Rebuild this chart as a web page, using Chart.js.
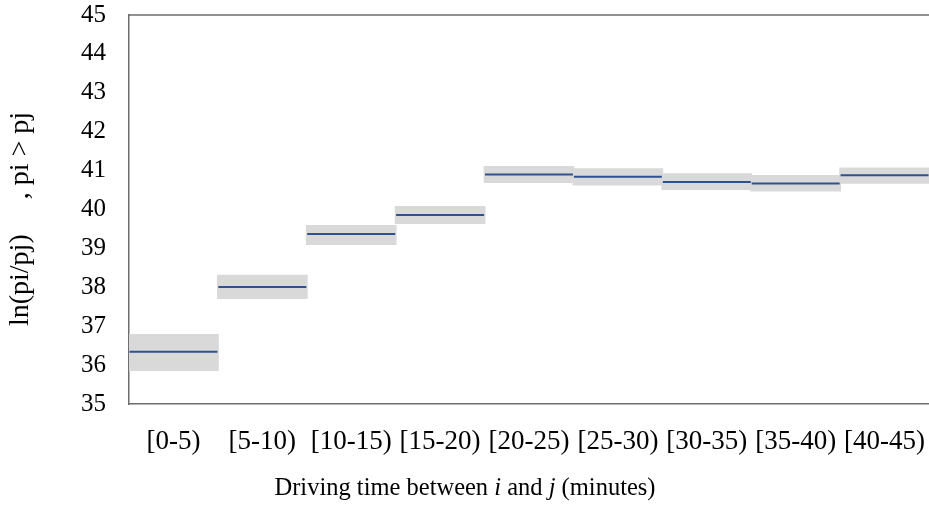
<!DOCTYPE html>
<html lang="en">
<head>
    <script src="https://cdn.jsdelivr.net/npm/chart.js@4.4.1/dist/chart.umd.min.js"></script>
    <meta charset="UTF-8">
    <title>Driving time</title>
    <style>
        body { margin: 0; background: #fff; }
        #wrap { width: 929px; height: 509px; }
    </style>
</head>
<body>
<div id="wrap"><canvas id="myChart" width="929" height="509"></canvas></div>

<script>
    // categories and values
    let categories = ['[0-5)', '[5-10)', '[10-15)', '[15-20)', '[20-25)', '[25-30)', '[30-35)', '[35-40)', '[40-45)'];
    let lows  = [35.85, 37.70, 39.09, 39.63, 40.68, 40.62, 40.50, 40.46, 40.66];
    let highs = [36.80, 38.32, 39.60, 40.09, 41.12, 41.06, 40.93, 40.89, 41.08];
    let means = [36.34, 38.01, 39.37, 39.86, 40.90, 40.84, 40.71, 40.67, 40.88];

    let yTitle = 'ln(pi/pj)     , pi > pj';
    let xTitle = [['Driving time between ', ''], ['i', 'italic '], [' and ', ''], ['j', 'italic '], [' (minutes)', '']];

    const serif = "'Liberation Serif', 'Times New Roman', serif";
    const axisColor = '#6e6e6e';

    // draws the top frame line and both axis titles
    const extras = {
        id: 'extras',
        afterDraw(chart) {
            let ctx = chart.ctx;
            let a = chart.chartArea;
            ctx.save();
            ctx.strokeStyle = axisColor;
            ctx.lineWidth = 1.5;
            ctx.beginPath();
            ctx.moveTo(a.left, a.top);
            ctx.lineTo(a.right, a.top);
            ctx.stroke();

            ctx.fillStyle = '#000';
            ctx.textBaseline = 'middle';
            // x title, mixed italic
            let total = 0;
            xTitle.forEach(p => {
                ctx.font = p[1] + '24.5px ' + serif;
                total += ctx.measureText(p[0]).width;
            });
            let x = 465 - total / 2;
            ctx.textAlign = 'left';
            xTitle.forEach(p => {
                ctx.font = p[1] + '24.5px ' + serif;
                ctx.fillText(p[0], x, 489);
                x += ctx.measureText(p[0]).width;
            });

            // y title
            ctx.font = '28px ' + serif;
            ctx.translate(21, 219);
            ctx.rotate(-Math.PI / 2);
            ctx.textAlign = 'center';
            ctx.fillText(yTitle, 0, 0);
            ctx.restore();
        }
    };

    let ranges = lows.map((l, i) => [l, highs[i]]);

    let content = document.querySelector('#myChart').getContext('2d');
    let myChart = new Chart(content, {
        type: 'bar',
        data: {
            labels: categories,
            datasets: [{
                type: 'line',
                data: means,
                showLine: false,
                pointStyle: 'line',
                pointRadius: 44,
                pointHoverRadius: 44,
                borderColor: '#2f528f',
                borderWidth: 2,
                order: 1
            }, {
                data: ranges,
                backgroundColor: '#d9d9d9',
                barPercentage: 1.02,
                categoryPercentage: 1,
                order: 2
            }]
        },
        options: {
            responsive: false,
            animation: false,
            layout: { autoPadding: false, padding: { top: 15, right: 0, left: 0, bottom: 0 } },
            plugins: {
                legend: { display: false },
                tooltip: { enabled: false }
            },
            scales: {
                x: {
                    grid: { display: false, drawTicks: false },
                    border: { display: true, color: axisColor, width: 1.5 },
                    ticks: { color: '#000', font: { family: serif, size: 27 }, padding: 22, maxRotation: 0 },
                    afterFit(scale) {
                        scale.height = 105;
                        scale.paddingLeft = 0;
                        scale.paddingRight = 0;
                    }
                },
                y: {
                    min: 35,
                    max: 45,
                    grid: { display: false, drawTicks: false },
                    border: { display: true, color: axisColor, width: 1.5 },
                    ticks: { stepSize: 1, color: '#000', font: { family: serif, size: 25 }, padding: 23 },
                    afterFit(scale) {
                        scale.width = 129;
                        scale.paddingTop = 0;
                        scale.paddingBottom = 0;
                    }
                }
            }
        },
        plugins: [extras]
    });
</script>

</body>
</html>
